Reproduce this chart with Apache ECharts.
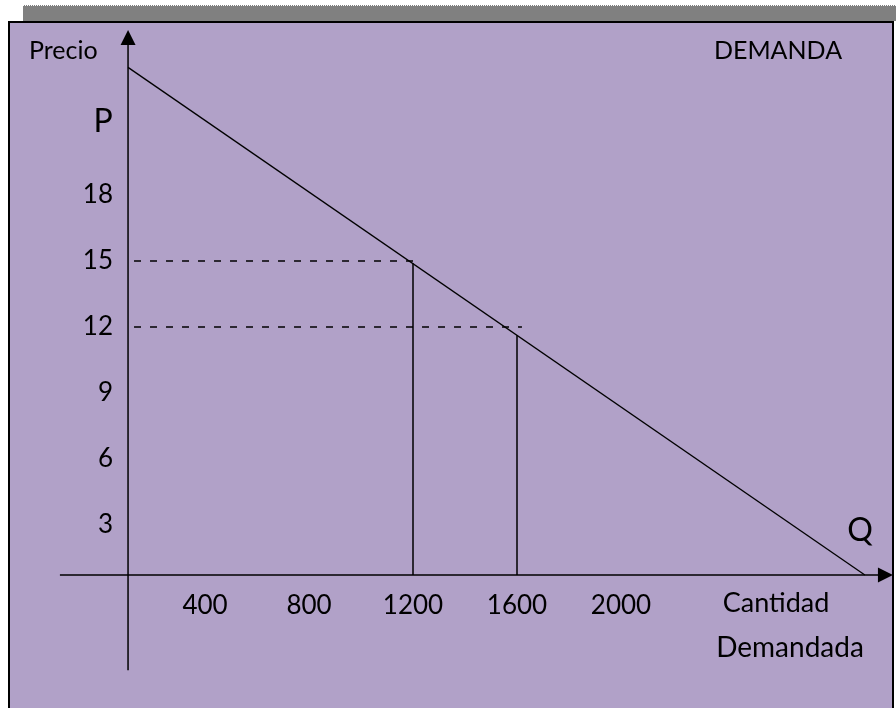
<!DOCTYPE html>
<html>
<head>
<meta charset="utf-8">
<script src="https://cdn.jsdelivr.net/npm/echarts@6/dist/echarts.min.js"></script>
<style>
  html, body { margin: 0; padding: 0; background: #fff; }
  #demanda { width: 896px; height: 708px; }
</style>
</head>
<body>
<div id="demanda"></div>
<script>
//*************** datos ***************
var precio_ticks = [3, 6, 9, 12, 15, 18];
var cantidad_ticks = [400, 800, 1200, 1600, 2000];
// recta de demanda (cantidad, precio)
var curva_demanda = [[104, 23.8], [2938, 0.73]];
// puntos marcados sobre la curva
var cantidades_marcadas = [1200, 1600];
var precios_curva = [14.9, 11.63];
var precios_guia = [15, 12];
var fin_guia = [1231, 1619];
// posicion de los ejes dibujados
var eje_x_nivel = 0.73;
var eje_y_nivel = 104;

var fuente = 'Lato';
var negro = '#000';

//*************** grafico ***************
var demanda_chart = echarts.init(document.getElementById('demanda'));

var series = [];

// eje Q (horizontal) con flecha
series.push({
    type: 'line', silent: true, clip: false, z: 5,
    symbol: 'triangle', symbolSize: 15, symbolRotate: -90,
    lineStyle: {color: negro, width: 1.5},
    itemStyle: {color: negro},
    data: [{value: [-158, eje_x_nivel], symbol: 'none'}, [3017, eje_x_nivel]]
});
// eje P (vertical) con flecha
series.push({
    type: 'line', silent: true, clip: false, z: 5,
    symbol: 'triangle', symbolSize: 15,
    lineStyle: {color: negro, width: 1.5},
    itemStyle: {color: negro},
    data: [{value: [eje_y_nivel, -3.6], symbol: 'none'}, [eje_y_nivel, 25.16]]
});
// curva de demanda
series.push({
    type: 'line', silent: true, clip: false, z: 4,
    symbol: 'none',
    lineStyle: {color: negro, width: 1.3},
    data: curva_demanda
});

for (var i = 0; i < cantidades_marcadas.length; i++) {
    // guia punteada hacia el eje P
    series.push({
        type: 'line', silent: true, clip: false, z: 3,
        symbol: 'none',
        lineStyle: {color: negro, width: 1.3, type: [7, 9]},
        data: [[127, precios_guia[i]], [fin_guia[i], precios_guia[i]]]
    });
    // vertical hacia el eje Q
    series.push({
        type: 'line', silent: true, clip: false, z: 3,
        symbol: 'none',
        lineStyle: {color: negro, width: 1.5},
        data: [[cantidades_marcadas[i], eje_x_nivel], [cantidades_marcadas[i], precios_curva[i]]]
    });
}

function texto(t, x, y, size, align) {
    return {
        type: 'text', z: 100, silent: true,
        style: {
            text: t, x: x, y: y, fill: negro,
            font: size + 'px ' + fuente,
            align: align || 'center', verticalAlign: 'middle'
        }
    };
}

demanda_chart.setOption({
    animation: false,
    backgroundColor: '#ffffff',
    grid: {left: -3, top: 63, right: 15, bottom: 117, outerBoundsMode: 'none', containLabel: false},
    xAxis: {
        type: 'value', min: -400, max: 3000, interval: 400,
        axisLine: {show: false, onZero: false}, axisTick: {show: false}, splitLine: {show: false},
        axisLabel: {
            margin: 2, color: negro, fontFamily: fuente, fontSize: 26,
            formatter: function (v) { return cantidad_ticks.indexOf(v) >= 0 ? String(v) : ''; }
        }
    },
    yAxis: {
        type: 'value', min: 0, max: 24, interval: 3,
        axisLine: {show: false, onZero: false}, axisTick: {show: false}, splitLine: {show: false},
        axisLabel: {
            margin: -116, color: negro, fontFamily: fuente, fontSize: 26,
            formatter: function (v) { return precio_ticks.indexOf(v) >= 0 ? String(v) : ''; }
        }
    },
    graphic: [
        // sombra gris superior
        {type: 'rect', z: -20, silent: true, shape: {x: 23, y: 5, width: 873, height: 16},
            style: {fill: '#808080'}},
        {type: 'line', z: -19, silent: true, shape: {x1: 23, y1: 5.5, x2: 896, y2: 5.5},
            style: {stroke: '#ffffff', lineWidth: 1, lineDash: [1, 1]}},
        // marco morado
        {type: 'rect', z: -10, silent: true, shape: {x: 9, y: 22, width: 884, height: 700},
            style: {fill: '#b1a1c8', stroke: negro, lineWidth: 2}},
        texto('Precio', 29, 51, 25, 'left'),
        texto('DEMANDA', 778, 51, 25),
        texto('P', 103, 122, 32),
        texto('Q', 860, 531, 32),
        texto('Cantidad', 776, 603, 27),
        texto('Demandada', 790, 648, 28)
    ],
    series: series
});
</script>
</body>
</html>
